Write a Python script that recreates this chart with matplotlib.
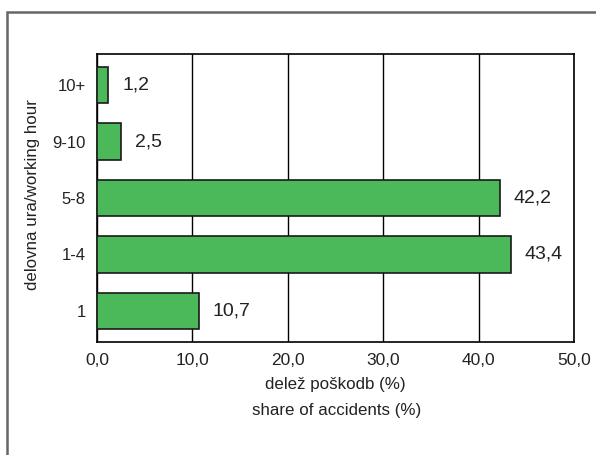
import matplotlib
matplotlib.use("Agg")
import matplotlib.pyplot as plt
from matplotlib.patches import Rectangle

# data
categories = ["1", "1-4", "5-8", "9-10", "10+"]
shares = [10.7, 43.4, 42.2, 2.5, 1.2]
xticks = [0, 10, 20, 30, 40, 50]

plt.rcParams['font.family'] = ['Liberation Sans', 'DejaVu Sans']

W, H = 596, 455
fig = plt.figure(figsize=(W / 100, H / 100), dpi=100)

# axes box in pixels: left 97, right 574, top 54, bottom 342
ax = fig.add_axes([97 / W, 1 - 342 / H, (574 - 97) / W, (342 - 54) / H])

ypos = range(len(categories))
ax.barh(ypos, shares, height=0.64, color="#4BB95A", edgecolor="#1a1a1a",
        linewidth=1.2, zorder=3)

for y, v in zip(ypos, shares):
    ax.text(v + 1.45, y, f"{v:.1f}".replace(".", ","), va="center", ha="left",
            fontsize=14, color="#222222")

ax.set_xlim(0, 50)
ax.set_ylim(-0.55, 4.55)
ax.set_xticks(xticks)
ax.set_xticklabels([f"{t:.1f}".replace(".", ",") for t in xticks], fontsize=12.5,
                   color="#222222")
ax.set_yticks(list(ypos))
ax.set_yticklabels(categories, fontsize=12, color="#222222")
ax.tick_params(length=0, pad=8)
ax.xaxis.grid(True, color="black", linewidth=1.0, zorder=0)
ax.set_axisbelow(True)
for s in ax.spines.values():
    s.set_color("black")
    s.set_linewidth(1.2)

fig.text(335 / W, 1 - 384 / H, "delež poškodb (%)", ha="center", va="center",
         fontsize=12.2, color="#222222")
fig.text(337 / W, 1 - 410 / H, "share of accidents (%)", ha="center",
         va="center", fontsize=12.2, color="#222222")
fig.text(33 / W, 1 - 195 / H, "delovna ura/working hour", ha="center",
         va="center", rotation=90, fontsize=12.2, color="#222222")

# outer frame, cut off at the right and bottom
frame = Rectangle((7 / W, -0.1), 1.2, 1 - 12 / H + 0.1, transform=fig.transFigure,
                  fill=False, edgecolor="#666666", linewidth=1.8)
fig.patches.append(frame)

fig.savefig("out.png", dpi=100, facecolor="white")
